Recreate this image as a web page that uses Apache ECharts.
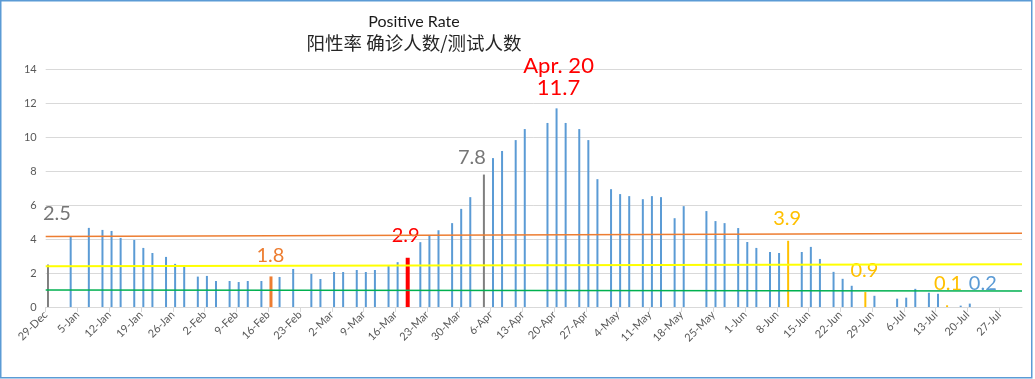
<!DOCTYPE html>
<html><head><meta charset="utf-8">
<script src="https://cdn.jsdelivr.net/npm/echarts@6/dist/echarts.min.js"></script>
<style>html,body{margin:0;padding:0;background:#fff}#c{width:1035px;height:379px}</style>
</head><body><div id="c"></div>
<script>
// ---------- data ----------
const startDate = '2020-12-29';
const tickLabels = ['29-Dec','5-Jan','12-Jan','19-Jan','26-Jan','2-Feb','9-Feb','16-Feb','23-Feb','2-Mar','9-Mar','16-Mar','23-Mar','30-Mar','6-Apr','13-Apr','20-Apr','27-Apr','4-May','11-May','18-May','25-May','1-Jun','8-Jun','15-Jun','22-Jun','29-Jun','6-Jul','13-Jul','20-Jul','27-Jul'];
const dates = ['2020-12-29','2021-01-03','2021-01-07','2021-01-10','2021-01-12','2021-01-14','2021-01-17','2021-01-19','2021-01-21','2021-01-24','2021-01-26','2021-01-28','2021-01-31',
'2021-02-02','2021-02-04','2021-02-07','2021-02-09','2021-02-11','2021-02-14','2021-02-16','2021-02-18','2021-02-21','2021-02-25','2021-02-27',
'2021-03-02','2021-03-04','2021-03-07','2021-03-09','2021-03-11','2021-03-14','2021-03-16','2021-03-18','2021-03-21','2021-03-23','2021-03-25','2021-03-28','2021-03-30',
'2021-04-01','2021-04-04','2021-04-06','2021-04-08','2021-04-11','2021-04-13','2021-04-18','2021-04-20','2021-04-22','2021-04-25','2021-04-27','2021-04-29',
'2021-05-02','2021-05-04','2021-05-06','2021-05-09','2021-05-11','2021-05-13','2021-05-16','2021-05-18','2021-05-23','2021-05-25','2021-05-27','2021-05-30',
'2021-06-01','2021-06-03','2021-06-06','2021-06-08','2021-06-10','2021-06-13','2021-06-15','2021-06-17','2021-06-20','2021-06-22','2021-06-24','2021-06-27','2021-06-29',
'2021-07-04','2021-07-06','2021-07-08','2021-07-11','2021-07-13','2021-07-15','2021-07-18','2021-07-20'];
const positiveRate = [2.5,4.15,4.66,4.54,4.48,4.07,3.95,3.48,3.18,2.95,2.54,2.38,1.79,
1.83,1.53,1.53,1.47,1.53,1.53,1.8,1.77,2.24,1.95,1.65,
2.06,2.06,2.18,2.06,2.18,2.45,2.64,2.9,3.82,4.21,4.52,4.94,5.78,
6.47,7.8,8.77,9.19,9.83,10.48,10.84,11.7,10.84,10.48,9.83,7.53,
6.94,6.65,6.53,6.35,6.53,6.47,5.23,5.94,5.65,5.06,4.94,4.65,
3.83,3.48,3.24,3.18,3.9,3.24,3.54,2.83,2.07,1.66,1.25,0.88,0.66,
0.49,0.55,1.07,0.84,0.78,0.1,0.08,0.2];
const refOrange = [4.15, 4.35];
const refYellow = [2.40, 2.52];
const refGreen = [1.00, 0.94];
const annotationDates = ['2020-12-29','2021-02-16','2021-03-18','2021-04-04','2021-04-20','2021-06-10','2021-06-27','2021-07-15','2021-07-20'];
const annotationTexts = ['2.5','1.8','2.9','7.8','Apr. 20\n11.7','3.9','0.9','0.1','0.2'];
const wideBarDates = ['2021-03-18', '2021-02-16'];
const titleText = 'Positive Rate';
const subTitleText = '阳性率 确诊人数/测试人数';

// ---------- styles ----------
const BLUE = '#5B9BD5', GRAY = '#7F7F7F', ORANGE = '#ED7D31', RED = '#FF0000', GOLD = '#FFC000';
const annStyles = [
  {bar: GRAY, text: '#767676', off: [9, -41]},
  {bar: ORANGE, text: ORANGE, off: [-0.5, -11]},
  {bar: RED, text: RED, off: [-2, -12]},
  {bar: GRAY, text: '#767676', off: [-12, -7]},
  {bar: BLUE, text: RED, off: [2, -10], fs: 22, lh: 21.5},
  {bar: GOLD, text: GOLD, off: [-1, -12]},
  {bar: GOLD, text: GOLD, off: [-1, -12]},
  {bar: GOLD, text: GOLD, off: [1, -12]},
  {bar: BLUE, text: BLUE, off: [13, -10]}
];
const wideBarWidths = [4, 3];
const FONT = 'Lato';

function dayOffset(s) {
  const a = new Date(startDate + 'T00:00:00Z').getTime();
  const b = new Date(s + 'T00:00:00Z').getTime();
  return Math.round((b - a) / 86400000);
}
const tickValues = tickLabels.map((_, i) => i * 7);
const X_MAX = 215;

function makeItem(d, i) {
  const item = {value: [dayOffset(d) + 0.5, positiveRate[i]]};
  const k = annotationDates.indexOf(d);
  if (k >= 0) {
    const st = annStyles[k];
    item.itemStyle = {color: st.bar};
    const fs = st.fs || 20;
    item.label = {
      show: true, position: 'top', distance: 0, offset: st.off,
      formatter: annotationTexts[k], color: st.text, fontSize: fs,
      lineHeight: st.lh || fs, fontFamily: FONT, align: 'center'
    };
  }
  return item;
}

const mainData = [];
const wideSeries = wideBarDates.map((d, j) => ({
  name: 'wide' + j, type: 'bar', data: [], barWidth: wideBarWidths[j], barGap: '-100%', z: 3, animation: false
}));
dates.forEach((d, i) => {
  const item = makeItem(d, i);
  const w = wideBarDates.indexOf(d);
  if (w >= 0) wideSeries[w].data.push(item); else mainData.push(item);
});

function refLine(name, vals, color, width) {
  return {
    name, type: 'line', data: [[0, vals[0]], [X_MAX, vals[1]]],
    symbol: 'none', silent: true, z: 5,
    lineStyle: {color, width}, animation: false
  };
}

const chart = echarts.init(document.getElementById('c'), null, {renderer: 'canvas'});
chart.setOption({
  animation: false,
  backgroundColor: '#fff',
  textStyle: {fontFamily: FONT},
  grid: {left: 45.7, right: 13, top: 69.3, bottom: 72, containLabel: false, outerBoundsMode: 'none'},
  graphic: [
    {type: 'rect', shape: {x: 0.75, y: 0.75, width: 1031, height: 377}, style: {fill: 'none', stroke: BLUE, lineWidth: 1.5}, silent: true},
    {type: 'text', x: 414, y: 22, style: {text: titleText, fill: '#1a1a1a', font: '16px Lato', textAlign: 'center', textVerticalAlign: 'middle'}},
    {type: 'text', x: 414, y: 43, style: {text: subTitleText, fill: '#262626', font: '18.5px "Noto Sans CJK SC"', textAlign: 'center', textVerticalAlign: 'middle'}}
  ],
  xAxis: {
    type: 'value', min: 0, max: X_MAX, interval: 7,
    axisLine: {show: true, lineStyle: {color: '#D9D9D9', width: 1}},
    axisTick: {show: true, length: 5, lineStyle: {color: '#D9D9D9'}, customValues: tickValues},
    axisLabel: {
      rotate: 45, margin: 6, fontSize: 11, color: '#595959', fontFamily: FONT,
      customValues: tickValues,
      formatter: v => { const i = Math.round(v / 7); return (v % 7 === 0 && tickLabels[i]) ? tickLabels[i] : ''; }
    },
    splitLine: {show: false}
  },
  yAxis: {
    type: 'value', min: 0, max: 14, interval: 2,
    axisLine: {show: false}, axisTick: {show: false},
    axisLabel: {fontSize: 11, color: '#595959', margin: 9, fontFamily: FONT},
    splitLine: {lineStyle: {color: '#D9D9D9', width: 1}}
  },
  series: wideSeries.concat([
    {name: 'Positive Rate', type: 'bar', data: mainData, barWidth: 2, barGap: '-100%', itemStyle: {color: BLUE}, z: 2, animation: false},
    refLine('orange', refOrange, ORANGE, 1.5),
    refLine('yellow', refYellow, '#FFFF00', 2),
    refLine('green', refGreen, '#00B050', 1.5)
  ])
});
</script></body></html>
